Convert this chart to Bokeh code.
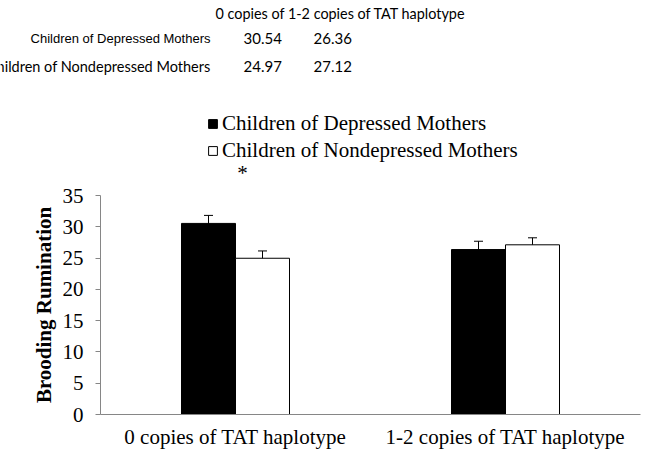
from bokeh.plotting import figure
from bokeh.models import (ColumnDataSource, FactorRange, Range1d, Label, Legend, LegendItem,
                          Whisker, TeeHead, FixedTicker)
from bokeh.transform import dodge
from bokeh.embed import file_html
from bokeh.resources import INLINE

# ---- data ----
categories = ["0 copies of TAT haplotype", "1-2 copies of TAT haplotype"]
groups = ["Children of Depressed Mothers", "Children of Nondepressed Mothers"]
depressed = [30.54, 26.36]
nondepressed = [24.97, 27.12]
depressed_se = [1.28, 1.33]
nondepressed_se = [1.17, 1.12]
table_header = "0 copies of 1-2 copies of TAT haplotype"
y_ticks = [0, 5, 10, 15, 20, 25, 30, 35]

SERIF = "Liberation Serif"
W, H = 645, 456
TOP_H = 185

src = ColumnDataSource(dict(
    cat=categories,
    dep=depressed,
    non=nondepressed,
    dep_lo=[v - e for v, e in zip(depressed, depressed_se)],
    dep_hi=[v + e for v, e in zip(depressed, depressed_se)],
    non_lo=[v - e for v, e in zip(nondepressed, nondepressed_se)],
    non_hi=[v + e for v, e in zip(nondepressed, nondepressed_se)],
))

# ---------- top area: data table, legend, asterisk ----------
top = figure(width=W, height=TOP_H, x_range=Range1d(0, W), y_range=Range1d(TOP_H, 0),
             x_axis_type=None, y_axis_type=None, output_backend="svg", toolbar_location=None,
             min_border_left=0, min_border_right=0, min_border_top=0, min_border_bottom=0)
top.outline_line_color = None
top.grid.visible = False

top.add_layout(Label(x=215, y=13, text=table_header, text_font="Lato", text_font_size="14.4px",
                     text_align="left", text_baseline="middle", text_color="black"))
rows = [(groups[0], "Liberation Sans", "13px", 38, depressed),
        (groups[1], "Lato", "14.5px", 66, nondepressed)]
for name, font, size, yy, vals in rows:
    top.add_layout(Label(x=210, y=yy, text=name, text_font=font, text_font_size=size,
                         text_align="right", text_baseline="middle", text_color="black"))
    for xx, v in zip([243, 313], vals):
        top.add_layout(Label(x=xx, y=yy, text=f"{v:.2f}", text_font="Lato",
                             text_font_size="15px", text_align="left",
                             text_baseline="middle", text_color="black"))

# legend swatches: renderers styled like the bars, with no visible data
nodata = ColumnDataSource(dict(x=[float("nan")], top=[float("nan")]))
lr1 = top.vbar(x="x", top="top", width=1, source=nodata, fill_color="black", line_color="black")
lr2 = top.vbar(x="x", top="top", width=1, source=nodata, fill_color="white", line_color="black")
legend = Legend(items=[LegendItem(label=groups[0], renderers=[lr1]),
                       LegendItem(label=groups[1], renderers=[lr2])],
                location=(207, 22), orientation="vertical",
                label_text_font=SERIF, label_text_font_size="21px", label_text_color="black",
                glyph_width=11, glyph_height=11, label_standoff=4, spacing=2, padding=0,
                margin=0, label_height=20, border_line_color=None, background_fill_alpha=0)
top.add_layout(legend, "center")

top.add_layout(Label(x=242, y=172, text="*", text_font=SERIF, text_font_size="21px",
                     text_align="center", text_baseline="alphabetic", text_color="black"))

# ---------- main bar chart ----------
p = figure(x_range=FactorRange(*categories, range_padding=0), y_range=Range1d(0, 35),
           width=W, height=H - TOP_H, output_backend="svg", toolbar_location=None,
           min_border_left=100, min_border_right=5, min_border_top=10, min_border_bottom=42)
p.outline_line_color = None
p.grid.visible = False

r1 = p.vbar(x=dodge("cat", -0.1, range=p.x_range), top="dep", width=0.2, source=src,
            fill_color="black", line_color="black", line_width=1)
r2 = p.vbar(x=dodge("cat", 0.1, range=p.x_range), top="non", width=0.2, source=src,
            fill_color="white", line_color="black", line_width=1)

for base, lo, hi in [(-0.1, "dep_lo", "dep_hi"), (0.1, "non_lo", "non_hi")]:
    p.add_layout(Whisker(source=src, base=dodge("cat", base, range=p.x_range), lower=lo, upper=hi,
                         line_color="black", line_width=1,
                         upper_head=TeeHead(size=9, line_color="black", line_width=1),
                         lower_head=TeeHead(size=9, line_color="black", line_width=1)))

p.yaxis.ticker = FixedTicker(ticks=y_ticks)
p.yaxis.axis_line_color = "#868686"
p.yaxis.major_tick_line_color = "#868686"
p.yaxis.major_tick_out = 5
p.yaxis.major_tick_in = 0
p.yaxis.minor_tick_line_color = None
p.yaxis.major_label_text_font = SERIF
p.yaxis.major_label_text_font_size = "21px"
p.yaxis.major_label_text_color = "black"
p.yaxis.major_label_standoff = 12
p.yaxis.axis_label = "Brooding Rumination"
p.yaxis.axis_label_text_font = SERIF
p.yaxis.axis_label_text_font_style = "bold"
p.yaxis.axis_label_text_font_size = "21px"
p.yaxis.axis_label_text_color = "black"
p.yaxis.axis_label_standoff = 4

p.xaxis.axis_line_color = "#868686"
p.xaxis.major_tick_line_color = None
p.xaxis.minor_tick_line_color = None
p.xaxis.major_label_text_font = SERIF
p.xaxis.major_label_text_font_size = "21px"
p.xaxis.major_label_text_color = "black"
p.xaxis.major_label_standoff = 4

open("out.html", "w").write(file_html([top, p], INLINE))
